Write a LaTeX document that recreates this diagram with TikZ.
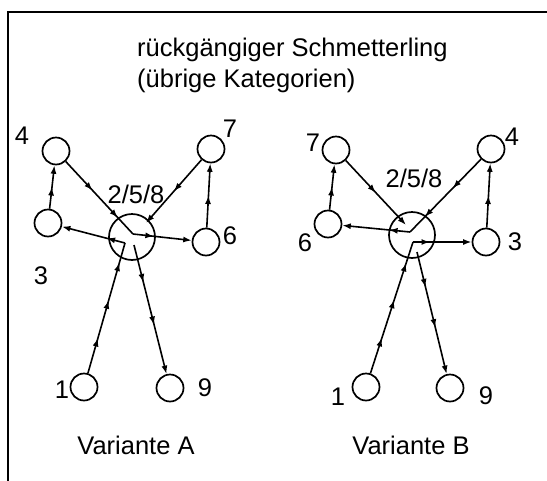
\documentclass[tikz,border=0pt]{standalone}
\usepackage{fontspec}
\setmainfont{Liberation Sans}
\usetikzlibrary{arrows.meta,decorations.markings}
\tikzset{
  every node/.style={font=\fontsize{25.5}{30}\selectfont},
  vtx/.style={circle,draw,line width=1.7pt,minimum size=27pt,inner sep=0pt},
  hub/.style={circle,draw,line width=1.7pt,minimum size=46pt,inner sep=0pt},
  lbl/.style={inner sep=0pt},
  edge/.style={line width=1.6pt},
  tip/.style={-{Latex[length=8.5pt,width=6pt]}},
  mk/.style={postaction={decorate,decoration={markings,mark=at position #1 with {\arrow{Latex[length=8.5pt,width=6pt]}}}}},
}
\begin{document}
\begin{tikzpicture}[x=1pt,y=-1pt]
\useasboundingbox (0,0) rectangle (547,480);
% frame
\draw[line width=2.5pt] (8,481) -- (8,12) -- (548,12);
% title
\node[lbl,anchor=base west] (t1) at (137,56) {rückgängiger Schmetterling};
\node[lbl,anchor=base west] (t2) at (137,87) {(übrige Kategorien)};
% ---------------- Variante A
\node[hub] (ha) at (132,237) {};
\node[vtx] (a4) at (56,151) {};
\node[vtx] (a3) at (48,223) {};
\node[vtx] (a7) at (211,149) {};
\node[vtx] (a6) at (206,242) {};
\node[vtx] (a1) at (84,387) {};
\node[vtx] (a9) at (170,388) {};
\coordinate (qa) at (133,234);
\coordinate (ta) at (146,223);
\coordinate (qa1) at (125,243);
\coordinate (qa2) at (134,245);
\draw[edge,tip,mk=0.5] (a3) -- (a4);
\draw[edge,tip,mk=0.5] (a6) -- (a7);
\draw[edge,mk=0.4,mk=-22pt] (a4) -- (qa);
\draw[edge,tip,mk=21pt] (qa) -- (a6);
\draw[edge,tip,mk=0.5] (a7) -- (ta);
\draw[edge,mk=0.27,mk=0.56,mk=0.85] (a1) -- (qa1);
\draw[edge,tip,mk=19pt] (qa1) -- (a3);
\draw[edge,tip,mk=0.29,mk=0.62] (qa2) -- (a9);
\node[lbl] (la4) at (22,136) {4};
\node[lbl] (la7) at (230,129) {7};
\node[lbl] (la6) at (230,236) {6};
\node[lbl] (la3) at (41,276) {3};
\node[lbl] (lha) at (136,194) {2/5/8};
\node[lbl] (la1) at (62,390) {1};
\node[lbl] (la9) at (205,388) {9};
\node[lbl,anchor=base] (va) at (136,454) {Variante A};
% ---------------- Variante B
\node[hub] (hb) at (412,235) {};
\node[vtx] (b7) at (336,150) {};
\node[vtx] (b6) at (328,224) {};
\node[vtx] (b4) at (491,149) {};
\node[vtx] (b3) at (486,242) {};
\node[vtx] (b1) at (366,387) {};
\node[vtx] (b9) at (450,388) {};
\coordinate (qb) at (410,232);
\coordinate (tb) at (406,225);
\coordinate (qb1) at (413,242);
\coordinate (qb2) at (417,252);
\draw[edge,tip,mk=0.5] (b6) -- (b7);
\draw[edge,tip,mk=0.5] (b3) -- (b4);
\draw[edge,tip,mk=0.5] (b7) -- (tb);
\draw[edge,mk=0.4,mk=-21pt] (b4) -- (qb);
\draw[edge,tip,mk=21pt] (qb) -- (b6);
\draw[edge,mk=0.27,mk=0.56,mk=0.84] (b1) -- (qb1);
\draw[edge,tip,mk=17pt] (qb1) -- (b3);
\draw[edge,tip,mk=0.29,mk=0.62] (qb2) -- (b9);
\node[lbl] (lb7) at (313,143) {7};
\node[lbl] (lb4) at (512,137) {4};
\node[lbl] (lb6) at (305,243) {6};
\node[lbl] (lb3) at (515,242) {3};
\node[lbl] (lhb) at (414,178) {2/5/8};
\node[lbl] (lb1) at (338,397) {1};
\node[lbl] (lb9) at (486,396) {9};
\node[lbl,anchor=base] (vb) at (411,454) {Variante B};
\end{tikzpicture}
\end{document}
